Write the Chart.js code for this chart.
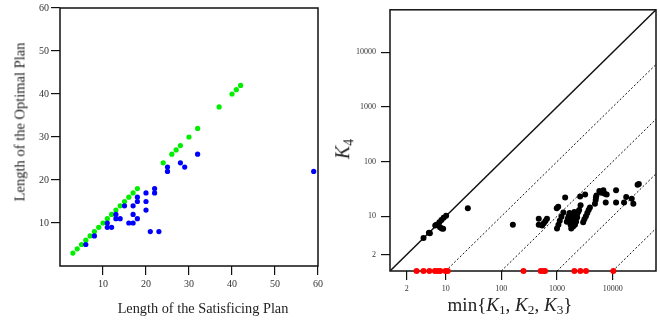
<!DOCTYPE html>
<html>
<head>
<meta charset="utf-8">
<script src="https://cdn.jsdelivr.net/npm/chart.js@4.4.1/dist/chart.umd.min.js"></script>
<style>
  body { margin: 0; background: #fff; }
  #wrap { position: relative; width: 660px; height: 320px; font-family: "Liberation Serif", serif; color: #222; }
  canvas { position: absolute; top: 0; }
  #left { left: 0; }
  #right { left: 330px; }
  .t { position: absolute; white-space: nowrap; transform: translate(-50%, -50%); }
  .rot { transform: translate(-50%, -50%) rotate(-90deg); }
  sub { font-size: 0.7em; vertical-align: -0.25em; }
</style>
</head>
<body>
<div id="wrap">
  <canvas id="left" width="330" height="320"></canvas>
  <canvas id="right" width="330" height="320"></canvas>
  <div class="t" style="left:203px;top:308px;font-size:14.3px;">Length of the Satisficing Plan</div>
  <div class="t rot" style="left:20px;top:122px;font-size:14.5px;">Length of the Optimal Plan</div>
  <div class="t" style="left:510px;top:306px;font-size:19px;">min{<i>K</i><sub>1</sub>, <i>K</i><sub>2</sub>, <i>K</i><sub>3</sub>}</div>
  <div class="t rot" style="left:344px;top:149px;font-size:20px;"><i>K</i><sub>4</sub></div>
</div>
<script>
// left chart: plan lengths (satisficing, optimal)
const sameLen = [[3,3],[4,4],[5,5],[6,6],[7,7],[8,8],[9,9],[10,10],[11,11],[12,12],[13,13],[14,14],
  [15,15],[16,16],[17,17],[18,18],[24,24],[26,26],[27,27],[28,28],[30,30],[32,32],[37,37],[40,40],[41,41],[42,42]];
const longerLen = [[6,5],[8,7],[11,10],[11,9],[12,9],[13,12],[13,11],[14,11],[15,14],[16,10],[17,14],[17,12],
  [17,10],[18,16],[18,15],[18,11],[20,17],[20,15],[20,13],[21,8],[22,18],[22,17],[23,8],[25,23],[25,22],
  [28,24],[29,23],[32,26],[59,22]];
const lenTicks = [10, 20, 30, 40, 50, 60];

// right chart: min{K1,K2,K3} vs K4
const kPoints = [[4,4],[5,5],[5.2,4.9],[6.5,6.8],[6.8,7],[7.7,7.8],[8.4,8.6],[9.2,9.4],[10.2,10.2],
  [7.9,6.3],[9,5.9],[8.5,6],[25,14],
  [161,7],[470,9],[470,7],[540,6.8],[580,7.5],[620,8.2],[660,9],
  [990,14],[1050,15],[1000,6],[1060,7],[1120,8.3],[1200,9.8],[1300,11.8],[1400,22],
  [1500,8],[1560,9],[1620,10],[1680,11.5],[1650,8.5],[1750,7],[1800,6],[1820,8],[1880,9],[1940,10],
  [2000,11],[2050,12],[1900,7],[2000,8],[2100,9],[2200,10],[2300,11],[1950,6.5],[2100,7],[2200,8],
  [2300,9.5],[2400,12],[2500,13],[2650,16],[2600,23],[3200,25],
  [2950,7.8],[3100,8.8],[3300,10],[3500,11.5],[3700,13],[3900,14.5],
  [4800,17],[4950,20],[5000,22],[5100,24],[5760,29],[6300,27],[6800,30],[7200,26],[7800,25],[7500,18],
  [11500,30],[11500,18],[16000,18],[17500,22.5],[22000,21],[23500,17],[28000,38],[29500,39]];
const kFailed = [3,4,5.1,6.4,7.2,8,9.9,10.9,250,510,570,610,2050,2630,3320,10260];
const kRatios = [1, 10, 100, 1000, 10000];
const kTicks = [2, 10, 100, 1000, 10000];
const kMin = 1, kMax = 60000;

const serif = "'Liberation Serif', serif";
const toPts = arr => arr.map(p => ({ x: p[0], y: p[1] }));

const frame = {
  id: 'frame',
  beforeDatasetsDraw(chart) {
    const a = chart.chartArea, ctx = chart.ctx;
    ctx.save();
    ctx.strokeStyle = '#111';
    ctx.lineWidth = 1.5;
    ctx.strokeRect(a.left, a.top, a.right - a.left, a.bottom - a.top);
    ctx.restore();
  }
};

const axis = (opts) => Object.assign({
  grid: { drawOnChartArea: false, tickLength: 9, color: '#111', tickColor: '#111', lineWidth: 1.2 },
  border: { display: false },
}, opts);

new Chart(document.getElementById('left'), {
  type: 'scatter',
  data: {
    datasets: [
      { data: toPts(longerLen), backgroundColor: '#0000ff', borderWidth: 0, pointRadius: 2.6 },
      { data: toPts(sameLen), backgroundColor: '#00ee00', borderWidth: 0, pointRadius: 2.6 },
    ],
  },
  options: {
    responsive: false,
    animation: false,
    layout: { padding: { top: 7, right: 12 } },
    plugins: { legend: { display: false }, tooltip: { enabled: false } },
    scales: {
      x: axis({
        min: 0, max: 60,
        afterBuildTicks: s => { s.ticks = lenTicks.map(v => ({ value: v })); },
        afterFit: s => { s.height = 54; },
        ticks: { font: { family: serif, size: 10 }, color: '#333', padding: 3, maxRotation: 0 },
      }),
      y: axis({
        min: 0, max: 60,
        afterBuildTicks: s => { s.ticks = lenTicks.map(v => ({ value: v })); },
        afterFit: s => { s.width = 60; },
        ticks: { font: { family: serif, size: 10 }, color: '#333', padding: 2 },
      }),
    },
  },
  plugins: [frame],
});

const refLines = kRatios.map(r => ({
  data: [{ x: r, y: kMin }, { x: kMax, y: kMax / r }],
  showLine: true,
  pointRadius: 0,
  borderColor: '#111',
  borderWidth: r === 1 ? 1.5 : 1,
  borderDash: r === 1 ? [] : [2, 2],
  order: 2,
}));

new Chart(document.getElementById('right'), {
  type: 'scatter',
  data: {
    datasets: [
      { data: kFailed.map(v => ({ x: v, y: kMin })), backgroundColor: '#ff0000', borderWidth: 0, pointRadius: 3, clip: false, order: 0 },
      { data: toPts(kPoints), backgroundColor: '#000', borderWidth: 0, pointRadius: 3, order: 1 },
      ...refLines,
    ],
  },
  options: {
    responsive: false,
    animation: false,
    layout: { padding: { top: 6, right: 4 } },
    plugins: { legend: { display: false }, tooltip: { enabled: false } },
    scales: {
      x: axis({
        type: 'logarithmic', min: kMin, max: kMax,
        afterBuildTicks: s => { s.ticks = kTicks.map(v => ({ value: v })); },
        afterFit: s => { s.height = 49; },
        ticks: { font: { family: serif, size: 8 }, color: '#333', padding: 4, maxRotation: 0, callback: v => String(v) },
      }),
      y: axis({
        type: 'logarithmic', min: kMin, max: kMax,
        afterBuildTicks: s => { s.ticks = kTicks.map(v => ({ value: v })); },
        afterFit: s => { s.width = 60; },
        ticks: { font: { family: serif, size: 8 }, color: '#333', padding: 5, callback: v => String(v) },
      }),
    },
  },
  plugins: [frame],
});
</script>
</body>
</html>
